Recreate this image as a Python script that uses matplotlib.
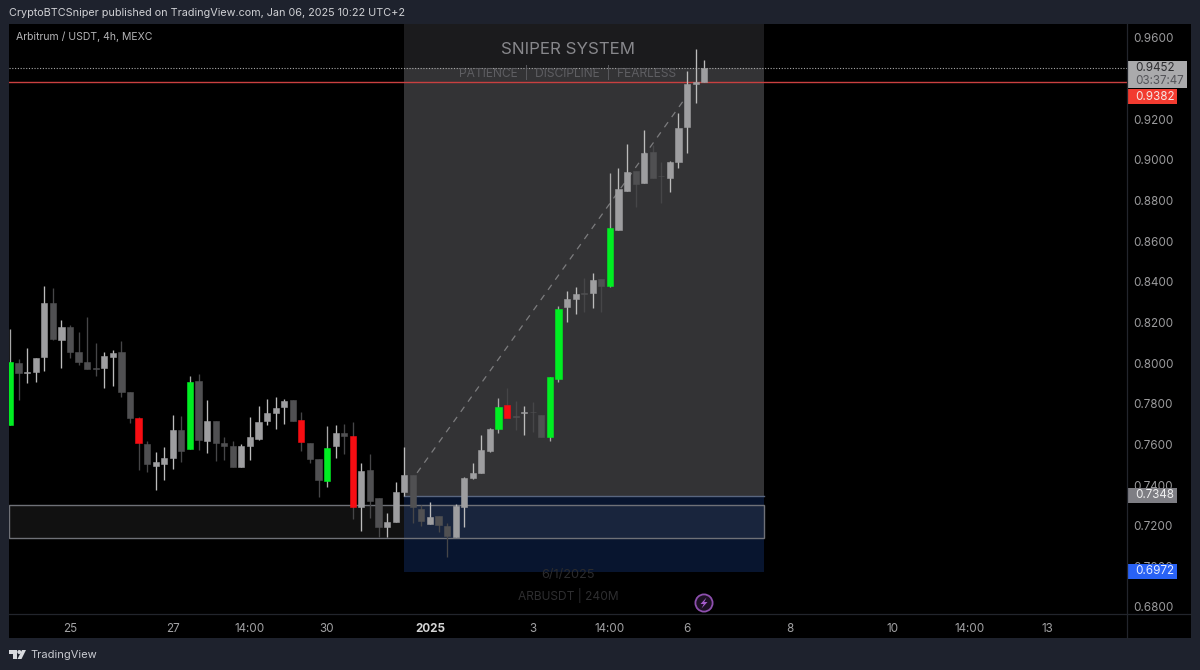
import matplotlib
matplotlib.use("Agg")
import matplotlib.pyplot as plt
from matplotlib.patches import Rectangle, Circle, Polygon
import numpy as np

plt.rcParams['font.family'] = ['Inter', 'DejaVu Sans']

W, H = 1200, 670

# 4h candles, first bar sits 7 bars before the "25" label
# g/r are the highlighted bars, u/d the plain up and down ones
kinds = list("gduuududdd" "duuddrduuu" "dgduddduuu" "uuudrddgud" "rudduuuddu"
             "dduuuuugrd" "uddgguudud" "guududduuu" "uu")

opens = [.7696, .8001, .7952, .7957, .8031, .8296, .8114, .8178, .8055, .8006, .7976, .7976, .8031, .8055,
         .7858, .7730, .7603, .7494, .7504, .7534, .7671, .7578, .7912, .7617, .7716, .7607, .7593, .7489,
         .7593, .7627, .7716, .7755, .7785, .7819, .7721, .7607, .7529, .7421, .7593, .7657, .7642, .7293,
         .7475, .7337, .7194, .7219, .7366, .7450, .7283, .7209, .7248, .7199, .7145, .7293, .7435, .7460,
         .7568, .7677, .7794, .7740, .7755, .7760, .7745, .7637, .7922, .8277, .8316, .8345, .8345, .8414,
         .8380, .8655, .8847, .8946, .8887, .9039, .8921, .8911, .8990, .9162, .9374, .9382]
highs = [.8168, .8021, .8075, .8026, .8380, .8370, .8213, .8188, .8153, .8227, .8099, .8055, .8065, .8109,
         .7858, .7735, .7617, .7563, .7588, .7745, .7740, .7937, .7947, .7819, .7716, .7637, .7617, .7603,
         .7735, .7790, .7824, .7834, .7824, .7819, .7760, .7607, .7529, .7691, .7696, .7701, .7711, .7509,
         .7553, .7337, .7263, .7416, .7588, .7450, .7302, .7317, .7248, .7214, .7307, .7440, .7509, .7647,
         .7681, .7829, .7878, .7814, .7790, .7809, .7745, .7932, .8281, .8355, .8375, .8419, .8444, .8414,
         .8936, .8960, .9078, .8946, .9147, .9073, .8990, .8995, .9231, .9438, .9546, .9492]
lows = [.7696, .7819, .7903, .7907, .7962, .8114, .7976, .8026, .7991, .7971, .7937, .7878, .7888, .7834,
        .7706, .7475, .7465, .7376, .7425, .7480, .7514, .7578, .7573, .7558, .7519, .7524, .7489, .7489,
        .7524, .7622, .7696, .7676, .7701, .7716, .7568, .7509, .7342, .7391, .7534, .7553, .7234, .7174,
        .7238, .7145, .7145, .7219, .7347, .7214, .7199, .7209, .7170, .7047, .7145, .7194, .7430, .7460,
        .7563, .7657, .7730, .7671, .7647, .7662, .7637, .7617, .7907, .8203, .8242, .8252, .8272, .8252,
        .8375, .8655, .8847, .8769, .8887, .8911, .8788, .8842, .8960, .9034, .9280, .9382]
closes = [.8006, .7952, .7957, .8026, .8296, .8119, .8178, .8055, .8006, .7971, .7971, .8035, .8050, .7858,
          .7730, .7607, .7504, .7514, .7534, .7671, .7568, .7907, .7622, .7716, .7607, .7593, .7489, .7593,
          .7637, .7711, .7755, .7780, .7814, .7716, .7612, .7529, .7425, .7583, .7657, .7642, .7293, .7470,
          .7322, .7194, .7219, .7366, .7450, .7293, .7224, .7243, .7204, .7150, .7298, .7435, .7460, .7573,
          .7677, .7785, .7730, .7735, .7760, .7758, .7637, .7932, .8267, .8316, .8340, .8340, .8409, .8380,
          .8665, .8857, .8941, .8882, .9034, .8911, .8919, .8990, .9157, .9374, .9383, .9452]

# 0.94 is covered by the last price tag
price_ticks = [.68, .70, .72, .74, .76, .78, .80, .82, .84, .86, .88, .90, .92, .96]
time_ticks = [0, 12, 21, 30, 42, 54, 63, 72, 84, 96, 105, 114]
time_labels = ["25", "27", "14:00", "30", "2025", "3", "14:00", "6", "8", "10", "14:00", "13"]

entry_price = 0.7348
stop_price = 0.6972
target_price = 0.9382
last_price = 0.9452
zone_low, zone_high = 0.7140, 0.7302
tool_start, tool_end = 39, 81

body_col = {'u': '#9e9ea0', 'd': '#505052', 'g': '#00ee22', 'r': '#f70d12'}
wick_col = {'u': '#bcbcbc', 'd': '#464648', 'g': '#a8a8a8', 'r': '#454547'}

fig = plt.figure(figsize=(12, 6.7), dpi=100, facecolor='#1e222d')


def px_axes(z):
    a = fig.add_axes([0, 0, 1, 1], zorder=z)
    a.set_xlim(0, W)
    a.set_ylim(H, 0)
    a.axis('off')
    a.patch.set_alpha(0)
    return a


back = px_axes(0)
back.add_patch(Rectangle((9, 24), 1182, 614, fc='black', ec='none'))

ax = fig.add_axes([9 / W, 1 - 614 / H, 1118 / W, 590 / H], zorder=1)
ax.set_facecolor('none')
ax.set_xlim(-7.118, 123.34)
ax.set_ylim(0.96 - 576 / 2032, 0.96 + 14 / 2032)
for s in ax.spines.values():
    s.set_visible(False)

# position tool zones
ax.add_patch(Rectangle((tool_start, entry_price), tool_end - tool_start, last_price - entry_price,
                       fc='#333335', ec='none', zorder=1))
ax.add_patch(Rectangle((tool_start, last_price), tool_end - tool_start, 0.9669 - last_price,
                       fc='#1b1b1d', ec='none', zorder=1))
ax.add_patch(Rectangle((tool_start, stop_price), tool_end - tool_start, entry_price - stop_price,
                       fc='#08152f', ec='none', zorder=1))
ax.plot([tool_start, tool_end], [entry_price, entry_price], color='#59667f', lw=1, zorder=2)

# supply/demand box
ax.add_patch(Rectangle((-7.118, zone_low), tool_end + 7.118, zone_high - zone_low,
                       fc=(1, 1, 1, 0.07), ec='#6f7177', lw=1, zorder=2))

ax.plot([40.5, 72.3], [0.7460, 0.9334], color='#7c7c7e', lw=0.9, ls=(0, (5, 5)), zorder=2)

ax.axhline(last_price, color='#a8a8a8', lw=0.8, ls=(0, (1, 1.5)), zorder=3)
ax.axhline(target_price, color='#c94040', lw=1.0, zorder=3)

# candles
idx = np.arange(-7, -7 + len(opens))
for i, o, h, l, c, k in zip(idx, opens, highs, lows, closes, kinds):
    ax.vlines(i, l, h, color=wick_col[k], lw=0.95, zorder=4)
    ax.bar(i, abs(c - o), bottom=min(o, c), width=0.72, color=body_col[k],
           edgecolor=body_col[k], linewidth=0.4, zorder=5)

ax.yaxis.tick_right()
ax.set_yticks(price_ticks)
ax.set_yticklabels(["%.4f" % p for p in price_ticks], fontsize=8.4, color='#9b9b9d')
ax.set_xticks(time_ticks)
ax.set_xticklabels(time_labels, fontsize=8.4, color='#a2a2a4')
ax.get_xticklabels()[4].set_fontweight('bold')
ax.get_xticklabels()[4].set_color('#d4d4d4')
ax.tick_params(axis='y', length=0, pad=4.6)
ax.tick_params(axis='x', length=0, pad=6.5)

# watermark on the tool
cx = 58.1
ax.text(cx, 0.9541, "SNIPER SYSTEM", ha='center', va='center', fontsize=12.2, color='#88888c', zorder=6)
ax.text(cx, 0.9428, "PATIENCE  |  DISCIPLINE  |  FEARLESS", ha='center', va='center', fontsize=8.6,
        color='#5e5e62', zorder=3)
ax.text(cx, 0.6959, "6/1/2025", ha='center', va='center', fontsize=9.2, color='#2b2b2d', zorder=6)
ax.text(cx, 0.6855, "ARBUSDT | 240M", ha='center', va='center', fontsize=8.6, color='#2e2e30', zorder=6)

# frame, price tags, header and footer
top = px_axes(2)
top.plot([9, 1191], [614, 614], color='#22252c', lw=0.9)
top.plot([1127, 1127], [24, 638], color='#22252c', lw=0.9)

top.add_patch(Rectangle((1128, 61), 59, 27, fc='#aaaaac', ec='none'))
top.text(1135, 68, "%.4f" % last_price, fontsize=8.4, color='#2d2d30', va='center')
top.text(1135, 81, "03:37:47", fontsize=8.4, color='#55555a', va='center')
top.add_patch(Rectangle((1128, 89), 49, 15, fc='#f23b30', ec='none'))
top.text(1135, 96.5, "%.4f" % target_price, fontsize=8.4, color='#f6e6e4', va='center')
top.add_patch(Rectangle((1128, 488), 49, 15, fc='#7e7e84', ec='none'))
top.text(1135, 495.5, "%.4f" % entry_price, fontsize=8.4, color='#efeff0', va='center')
top.add_patch(Rectangle((1128, 564), 49, 15, fc='#2962f5', ec='none'))
top.text(1135, 571.5, "%.4f" % stop_price, fontsize=8.4, color='#e6ecff', va='center')

top.text(9, 13, "CryptoBTCSniper published on TradingView.com, Jan 06, 2025 10:22 UTC+2",
         fontsize=7.8, color='#cfd0d4', va='center')
top.text(16, 37, "Arbitrum / USDT, 4h, MEXC", fontsize=7.55, color='#b4b4b6', va='center')

# lightning badge
top.add_patch(Circle((704, 603), 8.6, fc='#1c1023', ec='#8d4fae', lw=1.3))
top.add_patch(Polygon([(706.5, 597.5), (700.5, 604), (703.8, 604), (701.5, 608.5), (707.5, 602), (704.2, 602)],
                      fc='#a55ccb', ec='none'))

# footer logo
logo = '#d8dade'
top.add_patch(Polygon([(9, 650), (17, 650), (17, 659), (13, 659), (13, 654), (9, 654)], fc=logo, ec='none'))
top.add_patch(Circle((19.3, 652), 2, fc=logo, ec='none'))
top.add_patch(Polygon([(22, 650), (26, 650), (21.5, 659), (17.5, 659)], fc=logo, ec='none'))
top.text(30, 655, "TradingView", fontsize=8.0, color='#c9cbd1', va='center')

fig.savefig("out.png", dpi=100, facecolor=fig.get_facecolor())
